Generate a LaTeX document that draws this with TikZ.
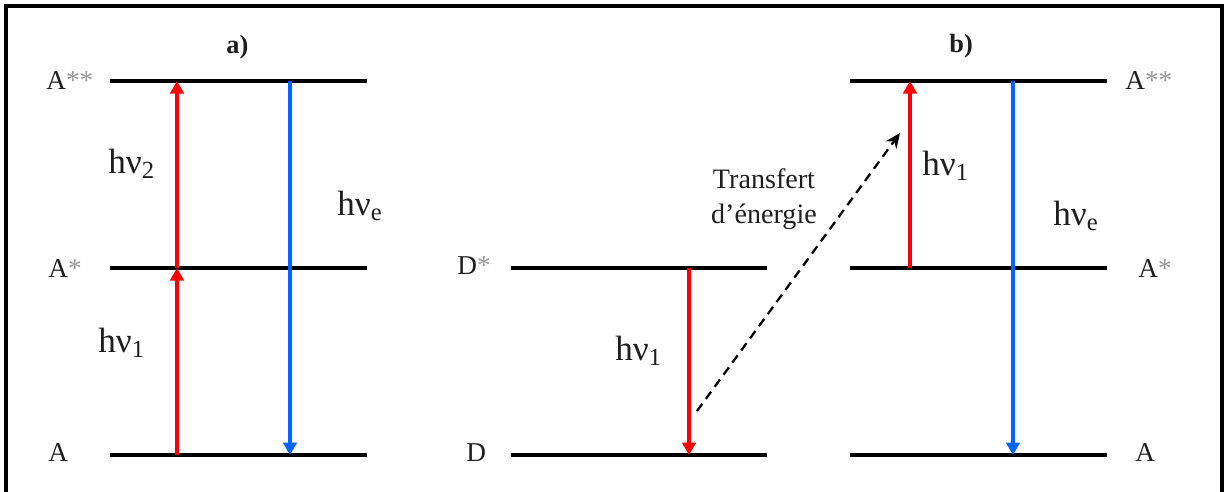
\documentclass[tikz,border=0pt]{standalone}
\usepackage{fontspec}
\setmainfont{Liberation Serif}
\usetikzlibrary{arrows.meta}
\definecolor{myred}{RGB}{255,0,0}
\definecolor{myblue}{RGB}{0,102,255}
\definecolor{stargray}{RGB}{150,150,150}
\definecolor{txt}{RGB}{30,30,30}
\newcommand{\st}[1]{{\color{stargray}#1}}
\begin{document}
\begin{tikzpicture}[x=0.02cm,y=-0.02cm,
  frame/.style={line width=1.8pt},
  level/.style={line width=2.5pt},
  redarrow/.style={myred,line width=1.8pt,-{Triangle[length=0.25cm,width=0.27cm]}},
  bluearrow/.style={myblue,line width=1.8pt,-{Triangle[length=0.25cm,width=0.27cm]}},
  transfer/.style={black,line width=1.3pt,dash pattern=on 0.18cm off 0.12cm,-{Stealth[length=0.3cm,width=0.26cm]}},
  statelab/.style={anchor=base west,inner sep=0pt,text=txt,font=\fontsize{15.5}{18}\selectfont},
  hvlab/.style={anchor=base west,inner sep=0pt,text=txt,font=\fontsize{20}{24}\selectfont},
  panellab/.style={anchor=base west,inner sep=0pt,text=txt,font=\fontsize{15}{18}\selectfont\bfseries},
  translab/.style={anchor=base,inner sep=0pt,text=txt,font=\fontsize{16}{19}\selectfont}]
\useasboundingbox (0,0) rectangle (1225,491);
% frame
\draw[frame] (6,495) -- (6,6) -- (1222,6) -- (1222,495);

% ---------- panel a ----------
\draw[level] (110,81) -- (367,81);
\draw[level] (110,268) -- (367,268);
\draw[level] (110,455) -- (367,455);
\coordinate (aR0) at (177,455);
\coordinate (aR1) at (177,268);
\coordinate (aR2) at (177,81);
\coordinate (aB2) at (290,81);
\coordinate (aB0) at (290,455);
\draw[redarrow] (aR0) -- (aR1);
\draw[redarrow] (aR1) -- (aR2);
\draw[bluearrow] (aB2) -- (aB0);
\node[panellab] (pa) at (226,53) {a)};
\node[statelab] (aA2) at (46,89) {A\st{**}};
\node[statelab] (aA1) at (48,277) {A\st{*}};
\node[statelab] (aA0) at (48,461) {A};
\node[hvlab] (ahv2) at (108,173) {hν\textsubscript{2}};
\node[hvlab] (ahv1) at (98,352) {hν\textsubscript{1}};
\node[hvlab] (ahve) at (337,215) {hν\textsubscript{e}};

% ---------- panel b, donor ----------
\draw[level] (511,268) -- (767,268);
\draw[level] (511,455) -- (767,455);
\coordinate (dR1) at (689,268);
\coordinate (dR0) at (689,455);
\draw[redarrow] (dR1) -- (dR0);
\node[statelab] (dD1) at (457,274) {D\st{*}};
\node[statelab] (dD0) at (466,461) {D};
\node[hvlab] (dhv1) at (615,360) {hν\textsubscript{1}};

% transfer
\coordinate (tS) at (697,411);
\coordinate (tE) at (900,133);
\draw[transfer] (tS) -- (tE);
\node[translab] (tr1) at (764,188) {Transfert};
\node[translab] (tr2) at (764,223) {d’énergie};

% ---------- panel b, acceptor ----------
\draw[level] (850,81) -- (1107,81);
\draw[level] (850,268) -- (1107,268);
\draw[level] (850,455) -- (1107,455);
\coordinate (bR1) at (910,268);
\coordinate (bR2) at (910,81);
\coordinate (bB2) at (1013,81);
\coordinate (bB0) at (1013,455);
\draw[redarrow] (bR1) -- (bR2);
\draw[bluearrow] (bB2) -- (bB0);
\node[panellab] (pb) at (949,52) {b)};
\node[statelab] (bA2) at (1125,89) {A\st{**}};
\node[statelab] (bA1) at (1138,277) {A\st{*}};
\node[statelab] (bA0) at (1135,461) {A};
\node[hvlab] (bhv1) at (922,175) {hν\textsubscript{1}};
\node[hvlab] (bhve) at (1053,225) {hν\textsubscript{e}};
\end{tikzpicture}
\end{document}
